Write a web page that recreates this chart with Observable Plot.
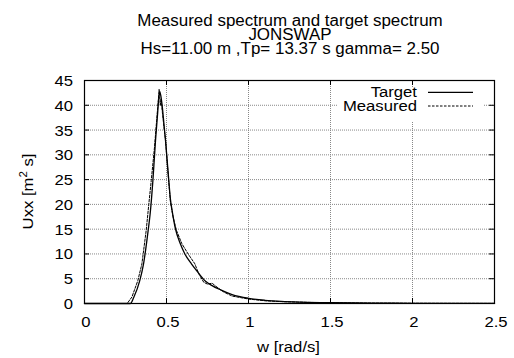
<!DOCTYPE html>
<html><head><meta charset="utf-8">
<script src="https://cdn.jsdelivr.net/npm/d3@7"></script>
<script src="https://cdn.jsdelivr.net/npm/@observablehq/plot@0.6"></script>
<style>
body{margin:0;background:#fff;}
#title{height:58px;box-sizing:border-box;padding-top:14px;padding-left:66px;font-family:"Liberation Sans",Arial,sans-serif;font-size:16px;line-height:14px;color:#000;}
#title div{width:448px;text-align:center;transform:scaleX(1.06);transform-origin:224px 0;white-space:nowrap;}
#chart svg{display:block;}
</style></head>
<body>
<div id="title"></div>
<div id="chart"></div>
<script>
// ---- data ----
const titleLines = ["Measured spectrum and target spectrum", "JONSWAP", "Hs=11.00 m ,Tp= 13.37 s gamma= 2.50"];
const xLabel = "w [rad/s]";
const yLabelParts = ["Uxx [m", "2", " s]"];
const seriesNames = ["Target", "Measured"];
const xTicks = [0, 0.5, 1, 1.5, 2, 2.5];
const yTicks = [0, 5, 10, 15, 20, 25, 30, 35, 40, 45];

const targetW = [0, 0.28, 0.30, 0.337, 0.36, 0.388, 0.40, 0.417, 0.433, 0.445, 0.458, 0.465, 0.475, 0.485, 0.494, 0.50, 0.514, 0.524, 0.534, 0.555, 0.585, 0.612, 0.652, 0.687, 0.738, 0.778, 0.83, 0.9, 1.0, 1.1, 1.2, 1.32, 1.5, 1.75, 2.0, 2.25, 2.5];
const targetS = [0, 0, 1.2, 4.6, 8, 14.7, 18, 24.8, 32.9, 38, 42.8, 42, 39.5, 36, 32.9, 30.5, 24.8, 21, 18.8, 15, 12, 10, 8, 6.5, 4.5, 3.6, 2.75, 1.8, 1.05, 0.65, 0.42, 0.27, 0.15, 0.08, 0.045, 0.025, 0.015];

const measuredW = [0, 0.26, 0.289, 0.325, 0.35, 0.376, 0.392, 0.407, 0.427, 0.44, 0.45, 0.455, 0.462, 0.467, 0.475, 0.485, 0.494, 0.51, 0.524, 0.54, 0.56, 0.594, 0.632, 0.673, 0.687, 0.70, 0.727, 0.75, 0.778, 0.80, 0.85, 0.9, 0.95, 1.0, 1.1, 1.2, 1.3, 1.4, 1.5, 1.7, 2.0, 2.25, 2.5];
const measuredS = [0, 0, 1.3, 4.6, 8, 14.7, 20, 24.8, 31.6, 37, 41, 43.2, 40, 41.3, 38.5, 35.5, 33, 26, 20.5, 17.5, 14.8, 12.05, 10, 8, 6.8, 5.8, 4.3, 3.9, 4.1, 3.5, 2.3, 1.5, 1.2, 0.9, 0.55, 0.38, 0.28, 0.2, 0.14, 0.09, 0.05, 0.03, 0.02];

const target = targetW.map((w, i) => ({w, s: targetS[i]}));
const measured = measuredW.map((w, i) => ({w, s: measuredS[i]}));

// ---- title ----
const tdiv = document.getElementById("title");
titleLines.forEach(t => { const d = document.createElement("div"); d.textContent = t; tdiv.appendChild(d); });

// ---- plot ----
const W = 514, H = 300, mT = 22, mB = 55, mL = 84, mR = 20;
const pw = W - mL - mR, ph = H - mT - mB;
const gridStyle = {stroke: "#888", strokeOpacity: 1, strokeDasharray: "1,1", strokeWidth: 1};

const plot = Plot.plot({
  width: W, height: H, marginTop: mT, marginBottom: mB, marginLeft: mL, marginRight: mR,
  style: {fontFamily: '"Liberation Sans", Arial, sans-serif', fontSize: "14.5px", color: "#000", background: "#fff"},
  x: {domain: [0, 2.5], axis: null},
  y: {domain: [0, 45], axis: null},
  marks: [
    Plot.gridX(xTicks.slice(1, -1), gridStyle),
    Plot.gridY(yTicks.slice(1, -1), gridStyle),
    Plot.tickX(xTicks, {x: d => d, insetTop: ph - 5, stroke: "black"}),
    Plot.tickX(xTicks, {x: d => d, insetBottom: ph - 5, stroke: "black"}),
    Plot.tickY(yTicks, {y: d => d, insetRight: pw - 5, stroke: "black"}),
    Plot.tickY(yTicks, {y: d => d, insetLeft: pw - 5, stroke: "black"}),
    Plot.line(target, {x: "w", y: "s", stroke: "black", strokeWidth: 1.3, curve: "monotone-x"}),
    Plot.line(measured, {x: "w", y: "s", stroke: "black", strokeWidth: 1, strokeDasharray: "2.5,1.5"}),
    Plot.frame({stroke: "black", strokeWidth: 1.2})
  ]
});
document.getElementById("chart").appendChild(plot);

const SX = 1.15;
const font = '"Liberation Sans", Arial, sans-serif';
const svg = d3.select(plot);
const xs = plot.scale("x"), ys = plot.scale("y");

// opaque legend background behind the data lines
const firstLine = plot.querySelector('g[aria-label="line"]');
const bg = document.createElementNS("http://www.w3.org/2000/svg", "rect");
bg.setAttribute("x", 337); bg.setAttribute("y", 29); bg.setAttribute("width", 146); bg.setAttribute("height", 34);
bg.setAttribute("fill", "#fff");
firstLine.parentNode.insertBefore(bg, firstLine);

// tick labels, positioned through the plot's scales
const tl = svg.append("g").attr("font-family", font).attr("font-size", 14.5).attr("fill", "#000");
xTicks.forEach(v => {
  tl.append("text").attr("text-anchor", "middle")
    .attr("transform", `translate(${xs.apply(v) + 2},269) scale(${SX},1)`).text(String(v));
});
yTicks.forEach(v => {
  tl.append("text").attr("text-anchor", "end")
    .attr("transform", `translate(${mL - 11},${ys.apply(v) + 6}) scale(${SX},1)`).text(String(v));
});

// legend
const leg = svg.append("g").attr("font-family", font).attr("font-size", 14.5);
[[seriesNames[0], 39.3, 34.3, null, 1.3], [seriesNames[1], 52.7, 48, "2.5,1.5", 1]].forEach(([name, by, ly, dash, sw]) => {
  leg.append("text").attr("text-anchor", "end").attr("transform", `translate(417,${by}) scale(${SX},1)`).text(name);
  leg.append("line").attr("x1", 428).attr("x2", 473).attr("y1", ly).attr("y2", ly)
    .attr("stroke", "black").attr("stroke-width", sw).attr("stroke-dasharray", dash);
});
// axis labels
svg.append("text").attr("font-family", font).attr("font-size", 14.5).attr("text-anchor", "middle")
  .attr("transform", `translate(288.5,293.5) scale(${SX},1)`).text(xLabel);
const yl = svg.append("text").attr("font-family", font).attr("font-size", 14.5).attr("text-anchor", "middle")
  .attr("transform", `translate(33,${mT + ph / 2}) rotate(-90) scale(${SX},1)`);
yl.append("tspan").text(yLabelParts[0]);
yl.append("tspan").attr("dy", -6).attr("font-size", 10).text(yLabelParts[1]);
yl.append("tspan").attr("dy", 6).text(yLabelParts[2]);
</script>
</body></html>
